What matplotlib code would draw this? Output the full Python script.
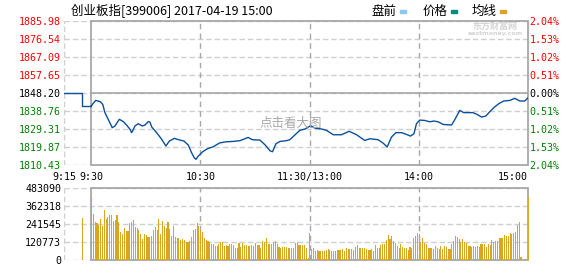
import numpy as np
import matplotlib
matplotlib.use('Agg')
from matplotlib import pyplot as plt
from matplotlib.patches import Rectangle

plt.rcParams['font.family'] = ['DejaVu Sans Mono', 'Noto Sans CJK SC']

# --- data ---
prev_close = 1848.20
price_ticks = [1810.43, 1819.87, 1829.31, 1838.76, 1848.20, 1857.65, 1867.09, 1876.54, 1885.98]
vol_ticks = [0, 120773, 241545, 362318, 483090]

# pre-market (minutes relative to 9:30)
pre_min = [-15, -5, 0]
pre_price = [1848.20, 1841.5, 1841.5]

# intraday price, minutes after 9:30 (lunch break removed)
minutes = [0, 1, 2.4, 3.8, 5, 6.3, 7.5, 9.3, 11.5, 13, 15.4, 17.6, 19.4, 21.3, 22.2, 24,
           25.8, 28, 29.5, 31.3, 32.2, 33.2, 35.9, 38.7, 41, 42.9, 45.6, 48.3, 50.9, 53.3,
           55.1, 56.6, 57.5, 58.8, 61.2, 63.9, 67, 70.5, 74, 78, 81.7, 86.2, 88.5, 92.7,
           95.4, 98.2, 99.6, 101.5, 103.7, 107.3, 109.1, 111, 114.6, 117.4, 120.5, 122.9,
           126.6, 129.3, 133, 137.5, 141.7, 145.8, 150.3, 153.1, 157.6, 160.4, 162.6, 165,
           167.4, 170.5, 173.2, 175.4, 177.3, 178.7, 180.5, 183.3, 186, 188.2, 190.6, 193.4,
           198, 199.8, 202.5, 204.7, 209.8, 212, 214.4, 216.8, 219, 221.8, 224.1, 226.7,
           230, 232.7, 235.5, 238.2, 240]
prices = [1841.5, 1842.7, 1844.3, 1844.0, 1843.6, 1842.2, 1837.9, 1834.4, 1830.0, 1830.9,
          1834.4, 1833.2, 1831.4, 1829.1, 1827.4, 1830.9, 1832.1, 1830.9, 1831.4, 1833.2,
          1833.0, 1830.4, 1827.4, 1823.9, 1820.4, 1823.0, 1824.4, 1823.6, 1823.0, 1820.9,
          1816.9, 1814.2, 1813.4, 1815.1, 1817.4, 1819.0, 1820.0, 1822.0, 1822.6, 1822.8,
          1823.2, 1824.9, 1823.7, 1823.5, 1821.1, 1817.9, 1817.4, 1821.6, 1822.8, 1823.2,
          1823.7, 1825.4, 1828.6, 1829.3, 1831.0, 1829.8, 1829.3, 1828.6, 1826.3, 1826.3,
          1828.1, 1826.3, 1823.3, 1824.2, 1823.7, 1821.9, 1819.9, 1825.1, 1827.4, 1827.4,
          1826.5, 1825.6, 1826.8, 1832.1, 1834.0, 1833.8, 1833.1, 1833.5, 1833.1, 1831.7,
          1831.4, 1834.3, 1839.1, 1837.9, 1837.9, 1837.0, 1835.6, 1836.1, 1838.4, 1841.0,
          1842.7, 1844.0, 1844.3, 1845.4, 1844.0, 1844.0, 1845.7]

pre_vol_min = [-5]
pre_vol = [283]  # thousands
# volume per minute, thousands, minute 0..240
volume = [418, 309, 253, 246, 235, 277, 230, 335, 277, 291,
          302, 302, 264, 271, 302, 255, 188, 174, 215, 195,
          195, 246, 255, 268, 221, 217, 201, 174, 141, 174,
          168, 157, 157, 161, 201, 224, 201, 277, 174, 262,
          228, 217, 255, 210, 161, 228, 154, 148, 148, 134,
          141, 134, 118, 123, 127, 154, 201, 208, 248, 228,
          201, 188, 148, 134, 127, 121, 107, 107, 94, 94,
          107, 121, 121, 94, 101, 94, 107, 107, 101, 80,
          80, 114, 87, 114, 101, 101, 94, 94, 101, 94,
          114, 101, 101, 80, 127, 121, 148, 107, 107, 107,
          121, 127, 107, 87, 80, 87, 87, 87, 80, 80,
          80, 80, 114, 121, 101, 101, 101, 101, 80, 13,
          181, 74, 80, 60, 67, 60, 60, 60, 60, 67,
          74, 67, 60, 60, 60, 67, 67, 67, 74, 60,
          80, 74, 74, 74, 67, 87, 101, 80, 80, 80,
          80, 74, 67, 67, 74, 60, 101, 80, 80, 101,
          107, 107, 134, 168, 141, 161, 127, 114, 94, 80,
          107, 87, 80, 80, 67, 87, 80, 148, 161, 181,
          174, 121, 148, 114, 107, 80, 80, 80, 74, 94,
          80, 74, 94, 74, 94, 87, 74, 74, 107, 127,
          161, 154, 141, 121, 141, 121, 114, 94, 94, 87,
          94, 87, 94, 87, 107, 107, 107, 87, 107, 101,
          134, 121, 127, 127, 148, 148, 148, 168, 161, 161,
          181, 174, 181, 188, 235, 255, 20, 0, 0, 0,
          425]

xtick_pos = [-15, 0, 60, 120, 180, 240]
xtick_labels = ['9:15', '9:30', '10:30', '11:30/13:00', '14:00', '15:00']

# --- style ---
W, H = 578, 276
box_c = '#a8a8a8'
grid_c = '#d0d0d0'
vgrid_c = '#a8a8a8'
line_c = '#0b4f9c'
bar_c = '#daa520'
fs = 7.2
cjk = ['Noto Sans CJK SC', 'DejaVu Sans']


def frame(ax, ymin, ymax, yt):
    for s in ax.spines.values():
        s.set_visible(False)
    for v in yt:
        ax.plot([-15, 240], [v, v], color=grid_c, lw=1, ls=(0, (4, 2)), zorder=1)
    ax.plot([-15, -15], [ymin, ymax], color=grid_c, lw=1, ls=(0, (4, 2)), zorder=1)
    for xv in [60, 120, 180]:
        ax.plot([xv, xv], [ymin, ymax], color=vgrid_c, lw=1, ls=(0, (4, 3)), zorder=1)
    ax.add_patch(Rectangle((0, ymin), 240, ymax - ymin, fill=False, ec=box_c, lw=1.3,
                           zorder=3, clip_on=False))
    ax.set_xlim(-15, 240)
    ax.set_ylim(ymin, ymax)
    ax.tick_params(length=0)


def color_of(p):
    if p > prev_close:
        return 'red'
    if p == prev_close:
        return 'black'
    return 'green'


fig = plt.figure(figsize=(W / 100, H / 100), dpi=100)

# price panel
ax = fig.add_axes([64 / W, 1 - 165 / H, 464 / W, 144 / H])
frame(ax, price_ticks[0], price_ticks[-1], price_ticks)
ax.plot([0, 240], [prev_close, prev_close], color=box_c, lw=1.2, zorder=2)
ax.plot(pre_min, pre_price, color=line_c, lw=1.0, drawstyle='steps-post', zorder=4)
ax.plot(minutes, prices, color=line_c, lw=1.0, zorder=4)

ax.set_yticks(price_ticks)
ax.set_yticklabels(['%.2f' % p for p in price_ticks], fontsize=fs)
ax.tick_params(axis='y', pad=2)
for lab, p in zip(ax.get_yticklabels(), price_ticks):
    lab.set_color(color_of(p))

ax.set_xticks(xtick_pos)
ax.set_xticklabels(xtick_labels, fontsize=fs)
ax.tick_params(axis='x', pad=5)
ax.get_xticklabels()[-1].set_ha('right')

ax2 = ax.twinx()
ax2.set_ylim(price_ticks[0], price_ticks[-1])
for s in ax2.spines.values():
    s.set_visible(False)
ax2.set_yticks(price_ticks)
ax2.set_yticklabels(['%.2f%%' % abs((p - prev_close) / prev_close * 100) for p in price_ticks],
                    fontsize=fs)
ax2.tick_params(length=0, pad=1)
for lab, p in zip(ax2.get_yticklabels(), price_ticks):
    lab.set_color(color_of(p))

fig.text(291 / W, 1 - 123 / H, '点击看大图', ha='center', va='center',
         fontsize=9, color='#a8a8a8', family=cjk, zorder=5)
fig.text(495 / W, 1 - 26 / H, '东方财富网', ha='center', va='center',
         fontsize=6.5, color='#d4d4d4', weight='bold', family=cjk)
fig.text(495 / W, 1 - 34 / H, 'eastmoney.com', ha='center', va='center',
         fontsize=4.5, color='#d4d4d4', weight='bold', family=['DejaVu Sans'])

# volume panel
vmax = vol_ticks[-1]
axv = fig.add_axes([64 / W, 1 - 260 / H, 464 / W, 71.7 / H])
frame(axv, 0, vmax, vol_ticks)
axv.bar(pre_vol_min, np.array(pre_vol) * 1000, width=0.6, color=bar_c, zorder=4,
        antialiased=False)
axv.bar(np.arange(len(volume)) + 0.15, np.array(volume) * 1000, width=0.6, color=bar_c,
        zorder=4, antialiased=False, clip_on=False)
axv.set_yticks(vol_ticks)
axv.set_yticklabels([str(v) for v in vol_ticks], fontsize=fs)
axv.tick_params(axis='y', pad=2)
axv.set_xticks([])

# title and legend
fig.text(71 / W, 1 - 11 / H, '创业板指[399006] 2017-04-19 15:00', fontsize=9, va='center',
         family=cjk)
for name, col, x0 in [('盘前', '#8cc8ee', 372), ('价格', '#008c80', 423), ('均线', '#daa520', 472)]:
    fig.text(x0 / W, 1 - 11 / H, name, fontsize=9, va='center', family=cjk)
    fig.patches.append(Rectangle(((x0 + 28) / W, 1 - 13 / H), 6 / W, 3 / H,
                                 transform=fig.transFigure, color=col))

fig.savefig('out.png', dpi=100, facecolor='white')
